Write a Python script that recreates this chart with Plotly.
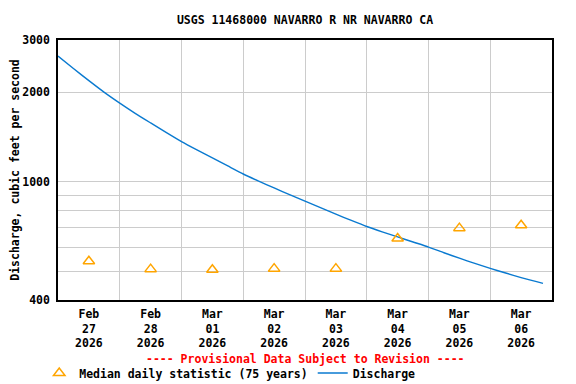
import plotly.graph_objects as go

# discharge, read every 6 hours from the picture (cfs)
flow_times = [
    "2026-02-27 00:00", "2026-02-27 06:00", "2026-02-27 12:00", "2026-02-27 18:00",
    "2026-02-28 00:00", "2026-02-28 06:00", "2026-02-28 12:00", "2026-02-28 18:00",
    "2026-03-01 00:00", "2026-03-01 06:00", "2026-03-01 12:00", "2026-03-01 18:00",
    "2026-03-02 00:00", "2026-03-02 06:00", "2026-03-02 12:00", "2026-03-02 18:00",
    "2026-03-03 00:00", "2026-03-03 06:00", "2026-03-03 12:00", "2026-03-03 18:00",
    "2026-03-04 00:00", "2026-03-04 06:00", "2026-03-04 12:00", "2026-03-04 18:00",
    "2026-03-05 00:00", "2026-03-05 06:00", "2026-03-05 12:00", "2026-03-05 18:00",
    "2026-03-06 00:00", "2026-03-06 06:00", "2026-03-06 12:00", "2026-03-06 18:00",
    "2026-03-06 20:30",
]
flow_values = [
    2650, 2405, 2190, 2000,
    1840, 1700, 1578, 1466,
    1365, 1280, 1203, 1130,
    1062, 1005, 953, 905,
    860, 818, 778, 741,
    707, 678, 652, 627,
    603, 577, 553, 531,
    511, 493, 476, 461,
    455,
]

# median daily statistic (75 years), plotted at noon
median_days = [
    "2026-02-27 12:00", "2026-02-28 12:00", "2026-03-01 12:00", "2026-03-02 12:00",
    "2026-03-03 12:00", "2026-03-04 12:00", "2026-03-05 12:00", "2026-03-06 12:00",
]
median_values = [540, 508, 506, 510, 510, 644, 698, 714]

day_labels = [
    "Feb<br>27<br>2026", "Feb<br>28<br>2026", "Mar<br>01<br>2026", "Mar<br>02<br>2026",
    "Mar<br>03<br>2026", "Mar<br>04<br>2026", "Mar<br>05<br>2026", "Mar<br>06<br>2026",
]
midnights = [
    "2026-02-28", "2026-03-01", "2026-03-02", "2026-03-03",
    "2026-03-04", "2026-03-05", "2026-03-06",
]
y_ticks = [400, 1000, 2000, 3000]
y_minor = [500, 600, 700, 800, 900]

FONT = dict(family="DejaVu Sans Mono", size=11.5, color="black", weight="bold")
GRID = "#cccccc"

# the page body adds an 8px margin, so the figure is 8px smaller than the window
W, H = 568, 376

fig = go.Figure()
fig.add_trace(
    go.Scatter(
        x=flow_times,
        y=flow_values,
        mode="lines",
        name="Discharge",
        line=dict(color="#0a7ad0", width=1.4, shape="spline", smoothing=0.6),
        legendrank=2,
    )
)
fig.add_trace(
    go.Scatter(
        x=median_days,
        y=median_values,
        mode="markers",
        name="Median daily statistic (75 years)",
        marker=dict(symbol="triangle-up-open", size=10, color="#ffa500",
                    line=dict(width=1.5, color="#ffa500")),
        legendrank=1,
    )
)

fig.update_layout(
    width=W,
    height=H,
    margin=dict(l=50, r=24, t=32, b=84, autoexpand=False),
    paper_bgcolor="white",
    plot_bgcolor="white",
    font=FONT,
    title=dict(
        text="USGS 11468000 NAVARRO R NR NAVARRO CA",
        x=0.5, xanchor="center", xref="paper",
        y=1 - 12 / H, yanchor="middle", yref="container",
        font=FONT,
    ),
    showlegend=True,
    legend=dict(
        orientation="h",
        x=-0.038, xanchor="left",
        y=-0.281, yanchor="middle",
        font=FONT,
        itemwidth=30,
        tracegroupgap=0,
    ),
    annotations=[
        dict(
            text="---- Provisional Data Subject to Revision ----",
            xref="paper", yref="paper",
            x=0.5, y=-0.227, xanchor="center", yanchor="middle",
            showarrow=False,
            font=dict(family="DejaVu Sans Mono", size=11.5, color="red", weight="bold"),
        )
    ],
)

fig.update_xaxes(
    type="date",
    range=["2026-02-27 00:00", "2026-03-07 00:00"],
    tickmode="array",
    tickvals=median_days,
    ticktext=day_labels,
    ticks="",
    showgrid=False,
    minor=dict(tickmode="array", tickvals=midnights, showgrid=True,
               gridcolor=GRID, gridwidth=1, ticks=""),
    showline=True, linecolor="black", linewidth=1.5, mirror=True,
    tickfont=FONT,
    ticklabelstandoff=2,
    automargin=False,
    zeroline=False,
)
fig.update_yaxes(
    type="log",
    range=[2.60206, 3.4771213],
    tickmode="array",
    tickvals=y_ticks,
    ticktext=[str(v) for v in y_ticks],
    ticks="",
    showgrid=True, gridcolor=GRID, gridwidth=1,
    minor=dict(tickmode="array", tickvals=y_minor, showgrid=True,
               gridcolor=GRID, gridwidth=1, ticks=""),
    showline=True, linecolor="black", linewidth=1.5, mirror=True,
    tickfont=FONT,
    ticklabelstandoff=4,
    automargin=False,
    title=dict(text="Discharge, cubic feet per second", font=FONT, standoff=6),
    zeroline=False,
)

fig.write_html("out.html")
